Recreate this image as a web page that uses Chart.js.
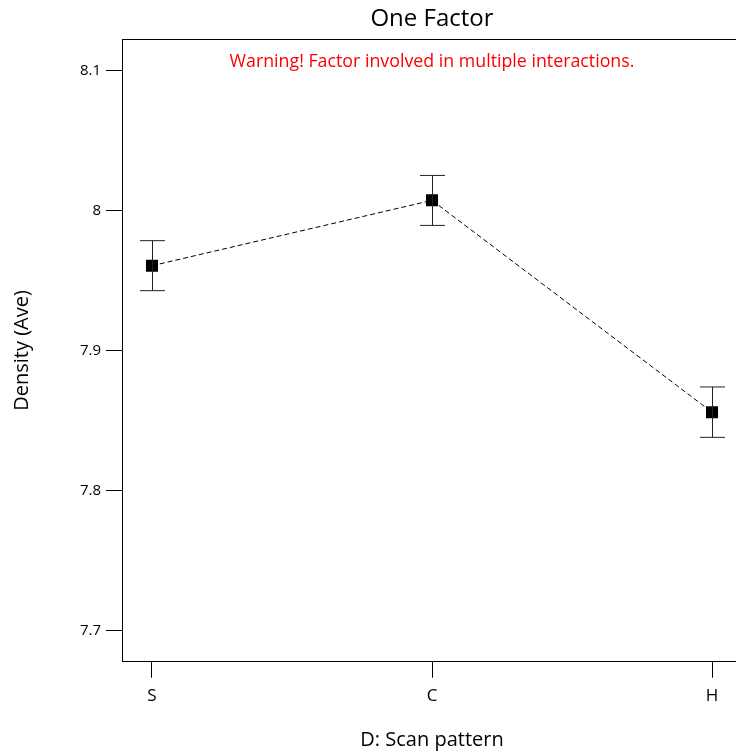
<!DOCTYPE html>
<html>
<head>
<meta charset="utf-8">
<script src="https://cdn.jsdelivr.net/npm/chart.js@4.4.1/dist/chart.umd.min.js"></script>
<style>
  html, body { margin: 0; padding: 0; background: #fff; overflow: hidden; }
  #wrap { width: 760px; height: 756px; position: relative; }
</style>
</head>
<body>
<div id="wrap"><canvas id="effectChart"></canvas></div>
<script>
var categories = ['S', 'C', 'H'];
var means = [7.9607, 8.0074, 7.8561];
var lower = [7.9429, 7.9895, 7.8381];
var upper = [7.9786, 8.0252, 7.8741];
var yTicks = [7.7, 7.8, 7.9, 8, 8.1];
var warningText = 'Warning! Factor involved in multiple interactions.';

var fontFamily = '"Open Sans", "Noto Sans", sans-serif';

// error bars + top frame line + warning text
var extrasPlugin = {
    id: 'extras',
    afterDatasetsDraw: function(chart) {
        var ctx = chart.ctx
        var xs = chart.scales.x, ys = chart.scales.y
        ctx.save()
        ctx.strokeStyle = '#222'
        ctx.lineWidth = 1
        for (var i = 0; i < categories.length; i++) {
            var px = Math.round(xs.getPixelForValue(i)) + 0.5
            var top = ys.getPixelForValue(upper[i])
            var bot = ys.getPixelForValue(lower[i])
            ctx.beginPath()
            ctx.moveTo(px, top); ctx.lineTo(px, bot)
            ctx.moveTo(px - 12.5, top); ctx.lineTo(px + 12.5, top)
            ctx.moveTo(px - 12.5, bot); ctx.lineTo(px + 12.5, bot)
            ctx.stroke()
        }
        ctx.restore()
    },
    afterDraw: function(chart) {
        var ctx = chart.ctx, a = chart.chartArea
        ctx.save()
        ctx.strokeStyle = '#000'
        ctx.lineWidth = 1
        ctx.beginPath()
        ctx.moveTo(a.left, Math.round(a.top) + 0.5)
        ctx.lineTo(a.right, Math.round(a.top) + 0.5)
        ctx.stroke()
        ctx.fillStyle = '#ff0000'
        ctx.font = '17.8px ' + fontFamily
        ctx.textAlign = 'center'
        ctx.textBaseline = 'middle'
        ctx.fillText(warningText, (a.left + a.right) / 2, a.top + 22.5)
        ctx.restore()
    }
}

var ctx = document.getElementById('effectChart').getContext('2d')
new Chart(ctx, {
    type: 'line',
    data: {
        datasets: [{
            data: means.map(function(v, i) { return { x: i, y: v } }),
            borderColor: '#000',
            borderWidth: 1,
            borderDash: [5, 3],
            pointStyle: 'rect',
            pointRadius: 8.5,
            pointBackgroundColor: '#000',
            pointBorderColor: '#000',
            pointBorderWidth: 0,
            tension: 0
        }]
    },
    options: {
        responsive: true,
        maintainAspectRatio: false,
        animation: false,
        layout: { padding: { left: 0, right: 18, top: 0, bottom: 0 } },
        plugins: {
            legend: { display: false },
            tooltip: { enabled: false },
            title: {
                display: true,
                text: 'One Factor',
                fullSize: false,
                color: '#000',
                font: { family: fontFamily, size: 24, weight: 'normal' },
                padding: { top: 5, bottom: 5.5 }
            }
        },
        scales: {
            x: {
                type: 'linear',
                min: -0.1071,
                max: 2.1071,
                afterBuildTicks: function(scale) {
                    scale.ticks = categories.map(function(c, i) { return { value: i } })
                },
                afterFit: function(scale) { scale.height = 94.3 },
                ticks: {
                    color: '#000',
                    padding: 8,
                    font: { family: fontFamily, size: 17 },
                    callback: function(v) { return categories[v] }
                },
                grid: { drawOnChartArea: false, tickLength: 16, tickColor: '#000', tickWidth: 1 },
                border: { color: '#000', width: 1 },
                title: {
                    display: true,
                    text: 'D: Scan pattern',
                    color: '#000',
                    font: { family: fontFamily, size: 20 },
                    padding: { top: 0, bottom: 4 }
                }
            },
            y: {
                min: 7.67786,
                max: 8.12243,
                afterBuildTicks: function(scale) {
                    scale.ticks = yTicks.map(function(v) { return { value: v } })
                },
                afterFit: function(scale) { scale.width = 122 },
                ticks: {
                    color: '#000',
                    padding: 5,
                    font: { family: fontFamily, size: 15 },
                    callback: function(v) { return String(+v.toFixed(2)) }
                },
                grid: { drawOnChartArea: false, tickLength: 16, tickColor: '#000', tickWidth: 1 },
                border: { color: '#000', width: 1 },
                title: {
                    display: true,
                    text: 'Density (Ave)',
                    color: '#000',
                    font: { family: fontFamily, size: 20 },
                    padding: { top: 10, bottom: 0 }
                }
            }
        }
    },
    plugins: [extrasPlugin]
})
</script>
</body>
</html>
